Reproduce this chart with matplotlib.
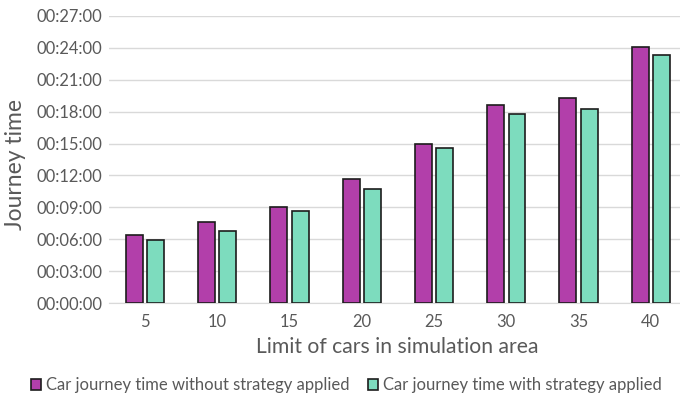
import matplotlib
matplotlib.use("Agg")
import matplotlib.pyplot as plt
from matplotlib.ticker import FuncFormatter, MultipleLocator
import numpy as np

plt.rcParams['font.family'] = ['Lato', 'DejaVu Sans']

categories = ["5", "10", "15", "20", "25", "30", "35", "40"]
without_strategy = ["00:06:22", "00:07:37", "00:09:05", "00:11:39", "00:14:58", "00:18:36", "00:19:19", "00:24:05"]
with_strategy = ["00:05:55", "00:06:48", "00:08:42", "00:10:46", "00:14:34", "00:17:47", "00:18:17", "00:23:16"]
series_names = ["Car journey time without strategy applied", "Car journey time with strategy applied"]
y_label = "Journey time"
x_label = "Limit of cars in simulation area"

def to_sec(s):
    h, m, sec = (int(p) for p in s.split(":"))
    return h * 3600 + m * 60 + sec

v1 = np.array([to_sec(s) for s in without_strategy])
v2 = np.array([to_sec(s) for s in with_strategy])

fig = plt.figure(figsize=(6.8, 3.97), dpi=100)
ax = fig.add_axes([108.75 / 680, 93.7 / 397, (687 - 108.75) / 680, 287.6 / 397])

x = np.arange(len(categories))
w = 0.235
off = 0.148
purple = "#B23FAA"
green = "#7DDCBE"
ax.bar(x - off, v1, w, color=purple, edgecolor="#1c1c1c", linewidth=1.2, label=series_names[0], zorder=3)
ax.bar(x + off, v2, w, color=green, edgecolor="#1c1c1c", linewidth=1.2, label=series_names[1], zorder=3)

ax.set_xlim(-0.5, len(categories) - 0.5)
ax.set_ylim(0, 27 * 60)
ax.yaxis.set_major_locator(MultipleLocator(180))

def fmt(v, pos):
    v = int(round(v))
    return f"{v // 3600:02d}:{(v % 3600) // 60:02d}:{v % 60:02d}"

ax.yaxis.set_major_formatter(FuncFormatter(fmt))
ax.set_xticks(x)
ax.set_xticklabels(categories)
ax.grid(axis="y", color="#d9d9d9", linewidth=1.0, zorder=0)
for s in ["top", "right", "left"]:
    ax.spines[s].set_visible(False)
ax.spines["bottom"].set_color("#d9d9d9")
ax.tick_params(axis="y", length=0, colors="#595959", labelsize=11.9, pad=4.5)
ax.tick_params(axis="x", length=0, colors="#595959", labelsize=11.9, pad=8)

fig.text(15 / 680, 1 - 164 / 397, y_label, rotation=90, ha="center", va="center", fontsize=16.5, color="#595959")
fig.text(397.5 / 680, 1 - 347 / 397, x_label, ha="center", va="center", fontsize=15.2, color="#595959")

leg = fig.legend(loc="center left", bbox_to_anchor=(31 / 680, 1 - 385 / 397), ncol=2, frameon=False,
                 fontsize=12.0, handlelength=0.62, handleheight=0.62, handletextpad=0.3, columnspacing=1.1,
                 labelcolor="#595959", borderaxespad=0, borderpad=0)
for h in leg.legend_handles:
    h.set_linewidth(1.2)

fig.savefig("out.png", dpi=100, facecolor="white")
